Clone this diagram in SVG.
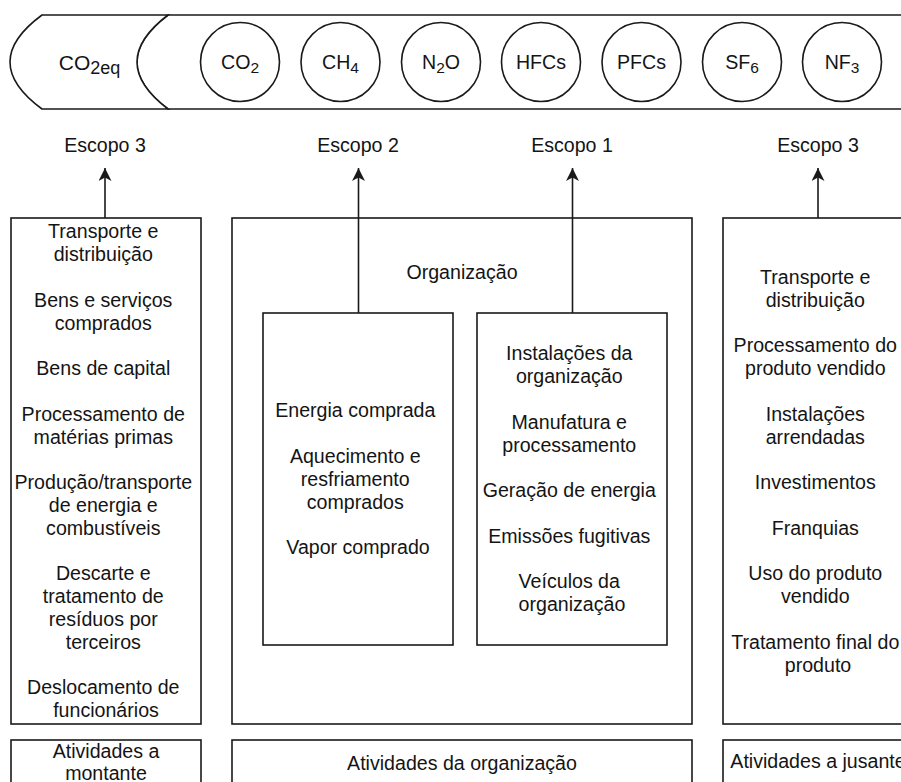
<svg xmlns="http://www.w3.org/2000/svg" width="901" height="782" viewBox="0 0 901 782">
<defs>
<style>
.box{fill:#fff;stroke:#1a1a1a;stroke-width:1.6}
.ln{fill:none;stroke:#1a1a1a;stroke-width:1.6}
.t{font-family:"Liberation Sans",Arial,sans-serif;font-size:19.6px;fill:#141414;text-anchor:middle}
.sub{font-size:15.5px}
</style>
<marker id="arr" markerUnits="userSpaceOnUse" markerWidth="14" markerHeight="14" viewBox="0 0 14 14" refX="13" refY="6.5" orient="auto">
<path d="M0,0 L13,6.5 L0,13 L3.5,6.5 z" fill="#1a1a1a"/>
</marker>
</defs>
<rect width="901" height="782" fill="#fff"/>

<g id="gases-band">
<path class="box" d="M168,15 L910,15 L910,109 L168,109 Q106,62 168,15 z"/>
</g>
<g id="co2eq">
<path class="box" d="M42,15 L168,15 Q106,62 168,109 L42,109 Q-22,62 42,15 z"/>
<text class="t" x="89.5" y="70" style="font-size:21px">CO<tspan dy="4" style="font-size:18px">2eq</tspan></text>
</g>
<g id="gas-co2"><circle class="box" cx="240" cy="62" r="39.5"/><text class="t" x="240" y="69">CO<tspan class="sub" dy="4">2</tspan></text></g>
<g id="gas-ch4"><circle class="box" cx="340.5" cy="62" r="39.5"/><text class="t" x="340.5" y="69">CH<tspan class="sub" dy="4">4</tspan></text></g>
<g id="gas-n2o"><circle class="box" cx="441" cy="62" r="39.5"/><text class="t" x="441" y="69">N<tspan class="sub" dy="4">2</tspan><tspan dy="-4">O</tspan></text></g>
<g id="gas-hfcs"><circle class="box" cx="541" cy="62" r="39.5"/><text class="t" x="541" y="69">HFCs</text></g>
<g id="gas-pfcs"><circle class="box" cx="641.5" cy="62" r="39.5"/><text class="t" x="641.5" y="69">PFCs</text></g>
<g id="gas-sf6"><circle class="box" cx="742" cy="62" r="39.5"/><text class="t" x="742" y="69">SF<tspan class="sub" dy="4">6</tspan></text></g>
<g id="gas-nf3"><circle class="box" cx="842" cy="62" r="39.5"/><text class="t" x="842" y="69">NF<tspan class="sub" dy="4">3</tspan></text></g>

<g id="label-escopo3-left"><text class="t" x="105" y="152">Escopo 3</text></g>
<g id="label-escopo2"><text class="t" x="358" y="152">Escopo 2</text></g>
<g id="label-escopo1"><text class="t" x="572" y="152">Escopo 1</text></g>
<g id="label-escopo3-right"><text class="t" x="818" y="152">Escopo 3</text></g>

<g id="upstream">
<rect class="box" x="11" y="218" width="190" height="506"/>
<text class="t">
<tspan x="106" y="238.4">Transporte e</tspan>
<tspan x="106" y="261.2">distribuição</tspan>
<tspan x="106" y="306.8">Bens e serviços</tspan>
<tspan x="106" y="329.6">comprados</tspan>
<tspan x="106" y="375.2">Bens de capital</tspan>
<tspan x="106" y="420.8">Processamento de</tspan>
<tspan x="106" y="443.6">matérias primas</tspan>
<tspan x="106" y="489.2">Produção/transporte</tspan>
<tspan x="106" y="512">de energia e</tspan>
<tspan x="106" y="534.8">combustíveis</tspan>
<tspan x="106" y="580.4">Descarte e</tspan>
<tspan x="106" y="603.2">tratamento de</tspan>
<tspan x="106" y="626">resíduos por</tspan>
<tspan x="106" y="648.8">terceiros</tspan>
<tspan x="106" y="694.4">Deslocamento de</tspan>
<tspan x="106" y="717.2">funcionários</tspan>
</text>
</g>

<g id="organizacao">
<rect class="box" x="232" y="218" width="460" height="506"/>
<text class="t" x="462" y="279">Organização</text>
</g>

<g id="downstream">
<rect class="box" x="723" y="218" width="190" height="506"/>
<text class="t">
<tspan x="818" y="284">Transporte e</tspan>
<tspan x="818" y="306.8">distribuição</tspan>
<tspan x="818" y="352.4">Processamento do</tspan>
<tspan x="818" y="375.2">produto vendido</tspan>
<tspan x="818" y="420.8">Instalações</tspan>
<tspan x="818" y="443.6">arrendadas</tspan>
<tspan x="818" y="489.2">Investimentos</tspan>
<tspan x="818" y="534.8">Franquias</tspan>
<tspan x="818" y="580.4">Uso do produto</tspan>
<tspan x="818" y="603.2">vendido</tspan>
<tspan x="818" y="648.8">Tratamento final do</tspan>
<tspan x="818" y="671.6">produto</tspan>
</text>
</g>

<g id="connectors">
<line class="ln" x1="105" y1="218" x2="105" y2="168" marker-end="url(#arr)"/>
<line class="ln" x1="358.5" y1="313" x2="358.5" y2="168" marker-end="url(#arr)"/>
<line class="ln" x1="572.5" y1="313" x2="572.5" y2="168" marker-end="url(#arr)"/>
<line class="ln" x1="818" y1="218" x2="818" y2="168" marker-end="url(#arr)"/>
</g>

<g id="escopo2-box">
<rect class="box" x="263" y="313" width="190" height="332"/>
<text class="t">
<tspan x="358" y="417.4">Energia comprada</tspan>
<tspan x="358" y="463">Aquecimento e</tspan>
<tspan x="358" y="485.8">resfriamento</tspan>
<tspan x="358" y="508.6">comprados</tspan>
<tspan x="358" y="554.2">Vapor comprado</tspan>
</text>
</g>

<g id="escopo1-box">
<rect class="box" x="477" y="313" width="190" height="332"/>
<text class="t">
<tspan x="572" y="360.4">Instalações da</tspan>
<tspan x="572" y="383.2">organização</tspan>
<tspan x="572" y="428.8">Manufatura e</tspan>
<tspan x="572" y="451.6">processamento</tspan>
<tspan x="572" y="497.2">Geração de energia</tspan>
<tspan x="572" y="542.8">Emissões fugitivas</tspan>
<tspan x="572" y="588.4">Veículos da</tspan>
<tspan x="572" y="611.2">organização</tspan>
</text>
</g>

<g id="atividades-montante">
<rect class="box" x="11" y="740" width="190" height="50"/>
<text class="t"><tspan x="106" y="757.5">Atividades a</tspan><tspan x="106" y="780">montante</tspan></text>
</g>
<g id="atividades-organizacao">
<rect class="box" x="232" y="740" width="460" height="50"/>
<text class="t" x="462" y="770">Atividades da organização</text>
</g>
<g id="atividades-jusante">
<rect class="box" x="723" y="740" width="190" height="50"/>
<text class="t" x="818" y="768">Atividades a jusante</text>
</g>
</svg>
